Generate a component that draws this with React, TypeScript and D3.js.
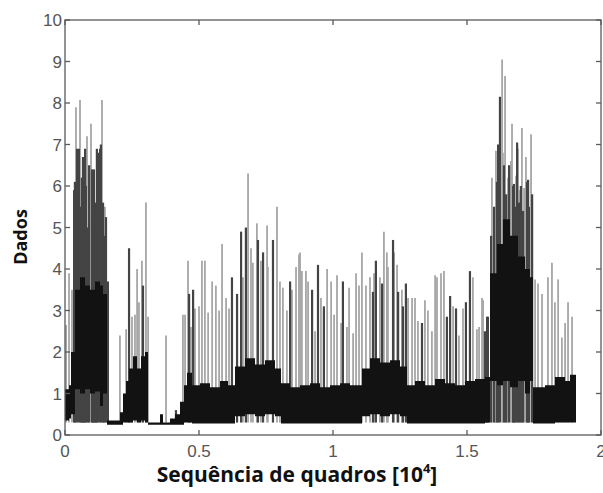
import React from "react";
import * as d3 from "d3";

// Axis ticks
const xTicks = [0, 0.5, 1, 1.5, 2];
const xTickLabels = ["0", "0.5", "1", "1.5", "2"];
const yTicks = [0, 1, 2, 3, 4, 5, 6, 7, 8, 9, 10];

// Dense core of the trace (x in 10^4 frames): low / high envelope, held until next point
const bandX = [0, 0.0149, 0.0224, 0.0373, 0.056, 0.0746, 0.0933, 0.1119, 0.1306, 0.1418, 0.1567, 0.2052, 0.2164, 0.2276, 0.2388, 0.2537, 0.2687, 0.2836, 0.2985, 0.3097, 0.3545, 0.3657, 0.3918, 0.4104, 0.4291, 0.444, 0.4552, 0.4739, 0.5037, 0.541, 0.5784, 0.6082, 0.6343, 0.6716, 0.709, 0.7463, 0.7836, 0.806, 0.8396, 0.8769, 0.9142, 0.9515, 0.9888, 1.0261, 1.0634, 1.1082, 1.1381, 1.1754, 1.2127, 1.25, 1.2761, 1.306, 1.3433, 1.3806, 1.4179, 1.4552, 1.4925, 1.5299, 1.5672, 1.5858, 1.6119, 1.6343, 1.6604, 1.6903, 1.7164, 1.7351, 1.7463, 1.791, 1.8284, 1.8657, 1.8843, 1.9067];
const bandLow = [0.35, 0.4, 0.5, 1.1, 1.0, 1.1, 1.0, 1.05, 0.7, 1.0, 0.25, 0.25, 0.3, 0.3, 0.3, 0.35, 0.3, 0.35, 0.3, 0.25, 0.25, 0.25, 0.25, 0.25, 0.25, 0.3, 0.3, 0.28, 0.28, 0.28, 0.28, 0.28, 0.45, 0.5, 0.45, 0.5, 0.45, 0.28, 0.28, 0.28, 0.28, 0.28, 0.28, 0.28, 0.28, 0.45, 0.5, 0.45, 0.5, 0.45, 0.28, 0.28, 0.28, 0.28, 0.28, 0.28, 0.28, 0.28, 0.3, 1.3, 1.2, 1.3, 1.15, 1.3, 1.0, 1.3, 0.28, 0.28, 0.3, 0.3, 0.3, 0.3];
const bandHigh = [1.1, 1.2, 2.0, 3.5, 3.8, 3.6, 3.5, 3.7, 3.6, 3.4, 0.35, 0.55, 1.0, 1.3, 1.6, 1.9, 1.6, 1.9, 2.0, 0.3, 0.5, 0.3, 0.4, 0.5, 0.8, 1.2, 1.5, 1.2, 1.25, 1.15, 1.3, 1.2, 1.65, 1.85, 1.7, 1.8, 1.6, 1.25, 1.15, 1.2, 1.25, 1.15, 1.2, 1.25, 1.2, 1.6, 1.85, 1.75, 1.8, 1.65, 1.2, 1.3, 1.2, 1.35, 1.25, 1.2, 1.3, 1.35, 1.4, 3.9, 4.6, 5.2, 4.8, 4.3, 4.0, 3.8, 1.15, 1.2, 1.4, 1.3, 1.45, 1.45];

// Individual peaks above the dense core
const spikeX = [0.004, 0.015, 0.026, 0.034, 0.037, 0.041, 0.045, 0.052, 0.056, 0.06, 0.063, 0.067, 0.071, 0.075, 0.078, 0.082, 0.086, 0.09, 0.097, 0.101, 0.104, 0.108, 0.112, 0.116, 0.119, 0.123, 0.131, 0.134, 0.138, 0.142, 0.146, 0.149, 0.153, 0.16,
  0.205, 0.228, 0.239, 0.25, 0.261, 0.269, 0.276, 0.287, 0.291, 0.302, 0.31,
  0.377, 0.414, 0.44,
  0.448, 0.459, 0.463, 0.47, 0.478, 0.485, 0.5, 0.511, 0.522, 0.534, 0.549, 0.563, 0.575, 0.586, 0.601, 0.612, 0.623, 0.642, 0.657, 0.664, 0.675, 0.683, 0.694, 0.701, 0.716, 0.72, 0.731, 0.739, 0.754, 0.757, 0.776, 0.791, 0.802, 0.813, 0.828, 0.84, 0.847, 0.862, 0.873,
  0.877, 0.884, 0.899, 0.907, 0.922, 0.933, 0.944, 0.955, 0.966, 0.978, 0.993, 1.004, 1.015, 1.03, 1.037, 1.052, 1.06, 1.075, 1.086, 1.097, 1.108, 1.123, 1.138, 1.149, 1.153, 1.16, 1.175, 1.183, 1.19, 1.201, 1.205, 1.224, 1.228, 1.239, 1.243, 1.257, 1.261, 1.272, 1.28, 1.295, 1.306, 1.317, 1.332, 1.343, 1.354,
  1.369, 1.381, 1.388, 1.403, 1.414, 1.425, 1.437, 1.448, 1.459, 1.47, 1.485, 1.496, 1.511, 1.522, 1.537, 1.545, 1.556, 1.56, 1.567, 1.575, 1.578,
  1.59, 1.593, 1.601, 1.604, 1.608, 1.612, 1.616, 1.623, 1.631, 1.634, 1.638, 1.642, 1.646, 1.649, 1.653, 1.657, 1.664, 1.668, 1.672, 1.675, 1.679, 1.683, 1.687, 1.69, 1.694, 1.698, 1.701, 1.705, 1.709, 1.713, 1.72, 1.724, 1.728, 1.731, 1.739, 1.743,
  1.754, 1.765, 1.78, 1.802, 1.817, 1.828, 1.84, 1.854, 1.866, 1.877, 1.892];
const spikeY = [2.65, 3.9, 3.5, 5.9, 6.1, 7.9, 6.9, 6.9, 8.07, 5.5, 6.2, 6.7, 5.3, 6.9, 6.0, 7.2, 5.0, 6.5, 7.5, 6.4, 5.2, 6.4, 5.0, 5.6, 6.9, 6.8, 6.9, 7.0, 8.07, 5.6, 4.8, 5.5, 5.25, 3.7,
  2.4, 2.55, 4.5, 2.85, 2.9, 4.0, 3.2, 4.2, 3.6, 5.6, 2.85,
  2.4, 0.6, 2.9,
  2.9, 4.2, 3.4, 2.6, 3.5, 3.05, 3.1, 4.2, 4.2, 2.95, 3.7, 3.6, 3.0, 4.6, 3.3, 3.05, 3.8, 3.4, 4.9, 3.8, 5.0, 6.3, 4.5, 4.15, 5.1, 4.7, 4.2, 4.4, 5.05, 4.05, 4.7, 5.5, 3.7, 3.55, 3.0, 3.7, 3.5, 4.05, 4.35,
  4.4, 3.95, 3.95, 3.7, 3.5, 2.5, 4.1, 3.3, 3.1, 4.0, 3.7, 2.9, 3.85, 2.7, 3.7, 2.6, 3.55, 2.45, 3.9, 3.6, 4.4, 3.6, 3.8, 3.45, 3.9, 4.2, 3.8, 3.65, 4.9, 4.4, 4.05, 4.7, 4.4, 4.1, 3.45, 3.5, 3.1, 3.65, 3.3, 3.3, 3.3, 2.75, 2.7, 3.25, 3.0,
  2.5, 3.85, 3.8, 3.9, 3.95, 2.85, 3.35, 3.1, 3.05, 2.4, 3.05, 3.2, 3.95, 3.8, 2.55, 2.6, 3.3, 3.25, 2.5, 2.85, 2.85,
  4.8, 6.2, 5.5, 5.0, 6.85, 6.1, 7.0, 8.15, 9.05, 6.8, 6.5, 8.65, 5.8, 5.2, 6.2, 6.5, 6.6, 7.5, 6.0, 6.05, 5.5, 6.25, 7.05, 6.9, 5.6, 5.9, 6.0, 7.4, 5.4, 5.95, 6.7, 6.1, 6.15, 5.5, 7.25, 5.8,
  3.75, 3.65, 3.4, 3.8, 4.15, 3.2, 3.75, 2.35, 2.7, 3.2, 2.85];
const spikeDark = [0, 0, 0, 1, 1, 0, 1, 1, 0, 1, 1, 1, 1, 1, 1, 0, 1, 1, 0, 1, 1, 1, 1, 1, 1, 1, 1, 1, 0, 1, 1, 0, 1, 1,
  0, 0, 1, 0, 0, 0, 0, 0, 1, 0, 0,
  0, 1, 0,
  0, 0, 1, 0, 1, 0, 0, 0, 0, 0, 0, 0, 0, 0, 0, 0, 1, 1, 1, 0, 1, 0, 0, 0, 0, 1, 0, 1, 0, 0, 1, 0, 0, 0, 0, 1, 0, 0, 0,
  0, 0, 0, 0, 1, 0, 1, 0, 1, 0, 0, 0, 0, 0, 1, 0, 0, 0, 0, 0, 0, 0, 0, 1, 0, 1, 0, 1, 0, 0, 0, 1, 0, 0, 1, 0, 1, 1, 0, 0, 0, 0, 1, 0, 0,
  0, 0, 0, 0, 0, 1, 1, 0, 1, 0, 0, 1, 1, 0, 0, 0, 0, 0, 1, 1, 1,
  1, 0, 1, 0, 0, 1, 1, 1, 0, 0, 1, 0, 1, 0, 0, 1, 0, 0, 1, 1, 1, 0, 1, 0, 1, 0, 1, 0, 1, 0, 0, 1, 1, 1, 0, 1,
  0, 0, 0, 0, 0, 0, 0, 0, 0, 0, 0];

const W = 603;
const H = 493;
const M = { left: 65, right: 601, top: 20, bottom: 435 };

export default function App() {
  const x = d3.scaleLinear().domain([0, 2]).range([M.left, M.right]);
  const y = d3.scaleLinear().domain([0, 10]).range([M.bottom, M.top]);

  const band = bandX.map((bx, i) => ({ x: bx, lo: bandLow[i], hi: bandHigh[i] }));
  const area = d3
    .area<{ x: number; lo: number; hi: number }>()
    .x((d) => x(d.x))
    .y0((d) => y(d.lo))
    .y1((d) => y(d.hi))
    .curve(d3.curveStepAfter);

  const spikes = spikeX.map((sx, i) => ({ x: sx, v: spikeY[i], dark: spikeDark[i] === 1 }));
  const base = 0.3;
  const axisColor = "#5a5a5a";
  const tickLen = 5;

  return (
    <svg
      width={W}
      height={H}
      style={{ position: "absolute", left: 0, top: 0, background: "#fff" }}
    >
      <rect x={0} y={0} width={W} height={H} fill="#fff" />
      {/* light spikes first, dark spikes over them */}
      {spikes
        .filter((s) => !s.dark)
        .map((s, i) => (
          <line key={"l" + i} x1={x(s.x)} x2={x(s.x)} y1={y(base)} y2={y(s.v)} stroke="#a6a6a6" strokeWidth={1.8} />
        ))}
      {spikes
        .filter((s) => s.dark)
        .map((s, i) => (
          <line key={"d" + i} x1={x(s.x)} x2={x(s.x)} y1={y(base)} y2={y(s.v)} stroke="#444" strokeWidth={2.2} />
        ))}
      <path d={area(band) || ""} fill="#121212" />

      {/* frame */}
      <rect x={M.left} y={M.top} width={M.right - M.left} height={M.bottom - M.top} fill="none" stroke={axisColor} strokeWidth={1.3} />
      {xTicks.map((t, i) => (
        <g key={"xt" + i}>
          <line x1={x(t)} x2={x(t)} y1={M.bottom} y2={M.bottom - tickLen} stroke={axisColor} strokeWidth={1.3} />
          <line x1={x(t)} x2={x(t)} y1={M.top} y2={M.top + tickLen} stroke={axisColor} strokeWidth={1.3} />
          <text x={x(t)} y={457} textAnchor="middle" fontFamily="Liberation Sans, Arial, sans-serif" fontSize={17} fill="#555">
            {xTickLabels[i]}
          </text>
        </g>
      ))}
      {yTicks.map((t) => (
        <g key={"yt" + t}>
          <line x1={M.left} x2={M.left + tickLen} y1={y(t)} y2={y(t)} stroke={axisColor} strokeWidth={1.3} />
          <line x1={M.right} x2={M.right - tickLen} y1={y(t)} y2={y(t)} stroke={axisColor} strokeWidth={1.3} />
          <text x={62} y={y(t) + 6} textAnchor="end" fontFamily="Liberation Sans, Arial, sans-serif" fontSize={17} fill="#555">
            {String(t)}
          </text>
        </g>
      ))}

      {/* axis titles */}
      <text
        transform={`translate(27,${237}) rotate(-90)`}
        textAnchor="middle"
        fontFamily="Open Sans, sans-serif"
        fontWeight="bold"
        fontSize={18}
        fill="#111"
      >
        Dados
      </text>
      <text x={297} y={482} textAnchor="middle" fontFamily="Open Sans, sans-serif" fontWeight="bold" fontSize={21} fill="#111">
        Sequência de quadros [10
        <tspan fontSize={13} dy={-9}>4</tspan>
        <tspan dy={9}>]</tspan>
      </text>
    </svg>
  );
}
